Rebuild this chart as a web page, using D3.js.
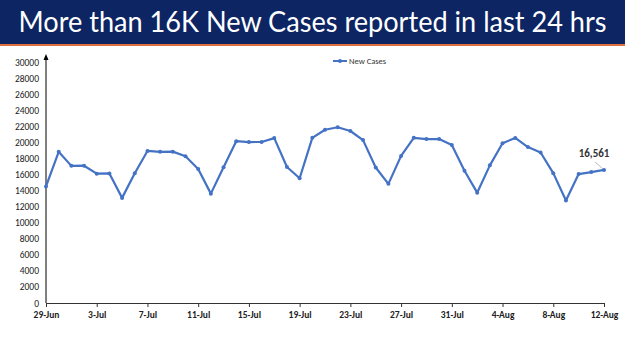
<!DOCTYPE html>
<html>
<head>
<meta charset="utf-8">
<script src="https://cdn.jsdelivr.net/npm/d3@7"></script>
<style>
  body { margin: 0; background: #fff; }
  svg { display: block; }
</style>
</head>
<body>
<div class="chart"></div>
<script>
const title = "More than 16K New Cases reported in last 24 hrs";
const seriesName = "New Cases";

const dates = [
    "29-Jun", "30-Jun",
    "1-Jul", "2-Jul", "3-Jul", "4-Jul", "5-Jul", "6-Jul", "7-Jul", "8-Jul", "9-Jul", "10-Jul",
    "11-Jul", "12-Jul", "13-Jul", "14-Jul", "15-Jul", "16-Jul", "17-Jul", "18-Jul", "19-Jul", "20-Jul",
    "21-Jul", "22-Jul", "23-Jul", "24-Jul", "25-Jul", "26-Jul", "27-Jul", "28-Jul", "29-Jul", "30-Jul", "31-Jul",
    "1-Aug", "2-Aug", "3-Aug", "4-Aug", "5-Aug", "6-Aug", "7-Aug", "8-Aug", "9-Aug", "10-Aug", "11-Aug", "12-Aug"
];
const newCases = [
    14506, 18819,
    17070, 17092, 16103, 16135, 13086, 16159, 18930, 18815, 18840, 18257,
    16678, 13615, 16906, 20139, 20038, 20044, 20528, 16935, 15528, 20557,
    21566, 21880, 21411, 20279, 16866, 14830, 18313, 20557, 20409, 20408, 19673,
    16464, 13734, 17135, 19893, 20551, 19406, 18738, 16167, 12751, 16047, 16299, 16561
];
const xTickLabels = ["29-Jun", "3-Jul", "7-Jul", "11-Jul", "15-Jul", "19-Jul", "23-Jul",
    "27-Jul", "31-Jul", "4-Aug", "8-Aug", "12-Aug"];
const yTicks = d3.range(0, 30001, 2000);

const width = 625;
const height = 351;
const margin = { top: 62, right: 21, bottom: 48, left: 46 };
const lineColor = "#4472c4";

const data = dates.map((d, i) => ({ date: d, value: newCases[i] }));

const svg = d3.select(".chart")
    .append("svg")
    .attr("width", width)
    .attr("height", height);

// title bar
svg.append("rect")
    .attr("x", 0).attr("y", 0)
    .attr("width", width).attr("height", 44)
    .attr("fill", "#0d2563");
svg.append("rect")
    .attr("x", 0).attr("y", 44)
    .attr("width", width).attr("height", 2)
    .attr("fill", "#e2703c");
svg.append("text")
    .text(title)
    .attr("x", width / 2)
    .attr("y", 32)
    .attr("text-anchor", "middle")
    .attr("fill", "#fff")
    .attr("font-family", "Lato, 'Open Sans', sans-serif")
    .attr("font-size", 28)
    .attr("textLength", 588)
    .attr("lengthAdjust", "spacingAndGlyphs");

const x = d3.scalePoint()
    .domain(dates)
    .range([margin.left, width - margin.right]);

const y = d3.scaleLinear()
    .domain([0, 30000])
    .range([height - margin.bottom, margin.top]);

const font = "Calibri, Carlito, 'Liberation Sans', Arial, sans-serif";

// y axis
const yAxis = d3.axisLeft(y)
    .tickValues(yTicks)
    .tickSize(0)
    .tickPadding(7)
    .tickFormat(d3.format("d"));

const gy = svg.append("g")
    .attr("transform", `translate(${margin.left},0)`)
    .call(yAxis);
gy.select(".domain")
    .attr("stroke", "#000")
    .attr("stroke-width", 1)
    .attr("d", `M0,${y(0)}V${margin.top - 6}`);
gy.selectAll(".tick text")
    .attr("font-family", font)
    .attr("font-size", 9.5)
    .attr("fill", "#222");
// arrow head on y axis
svg.append("path")
    .attr("d", `M${margin.left - 2.5},${margin.top - 2}L${margin.left},${margin.top - 8}L${margin.left + 2.5},${margin.top - 2}Z`)
    .attr("fill", "#000");

// x axis
const xAxis = d3.axisBottom(x)
    .tickValues(xTickLabels)
    .tickSize(4)
    .tickSizeOuter(0)
    .tickPadding(4);

const gx = svg.append("g")
    .attr("transform", `translate(0,${y(0)})`)
    .call(xAxis);
gx.select(".domain").attr("stroke", "#333");
gx.selectAll(".tick line").attr("stroke", "#333");
gx.selectAll(".tick text")
    .attr("font-family", font)
    .attr("font-size", 9.5)
    .attr("font-weight", "bold")
    .attr("fill", "#222");

// line
const line = d3.line()
    .x(d => x(d.date))
    .y(d => y(d.value));

svg.append("path")
    .datum(data)
    .attr("fill", "none")
    .attr("stroke", lineColor)
    .attr("stroke-width", 2.2)
    .attr("stroke-linejoin", "round")
    .attr("d", line);

svg.append("g")
    .selectAll("circle")
    .data(data)
    .join("circle")
    .attr("cx", d => x(d.date))
    .attr("cy", d => y(d.value))
    .attr("r", 2)
    .attr("fill", lineColor);

// last value label
const last = data[data.length - 1];
svg.append("line")
    .attr("x1", x(last.date) - 9)
    .attr("y1", y(last.value) - 8)
    .attr("x2", x(last.date) - 1)
    .attr("y2", y(last.value) - 1)
    .attr("stroke", "#aaa")
    .attr("stroke-width", 0.8);
svg.append("text")
    .text(d3.format(",")(last.value))
    .attr("x", x(last.date) - 10)
    .attr("y", y(last.value) - 13)
    .attr("text-anchor", "middle")
    .attr("font-family", font)
    .attr("font-size", 11)
    .attr("font-weight", "bold")
    .attr("fill", "#333");

// legend
const legend = svg.append("g")
    .attr("transform", `translate(333,61)`);
legend.append("line")
    .attr("x1", 0).attr("x2", 14)
    .attr("y1", 0).attr("y2", 0)
    .attr("stroke", lineColor)
    .attr("stroke-width", 2);
legend.append("circle")
    .attr("cx", 7).attr("cy", 0).attr("r", 2)
    .attr("fill", lineColor);
legend.append("text")
    .text(seriesName)
    .attr("x", 16)
    .attr("y", 3)
    .attr("font-family", font)
    .attr("font-size", 8.5)
    .attr("fill", "#333");
</script>
</body>
</html>
